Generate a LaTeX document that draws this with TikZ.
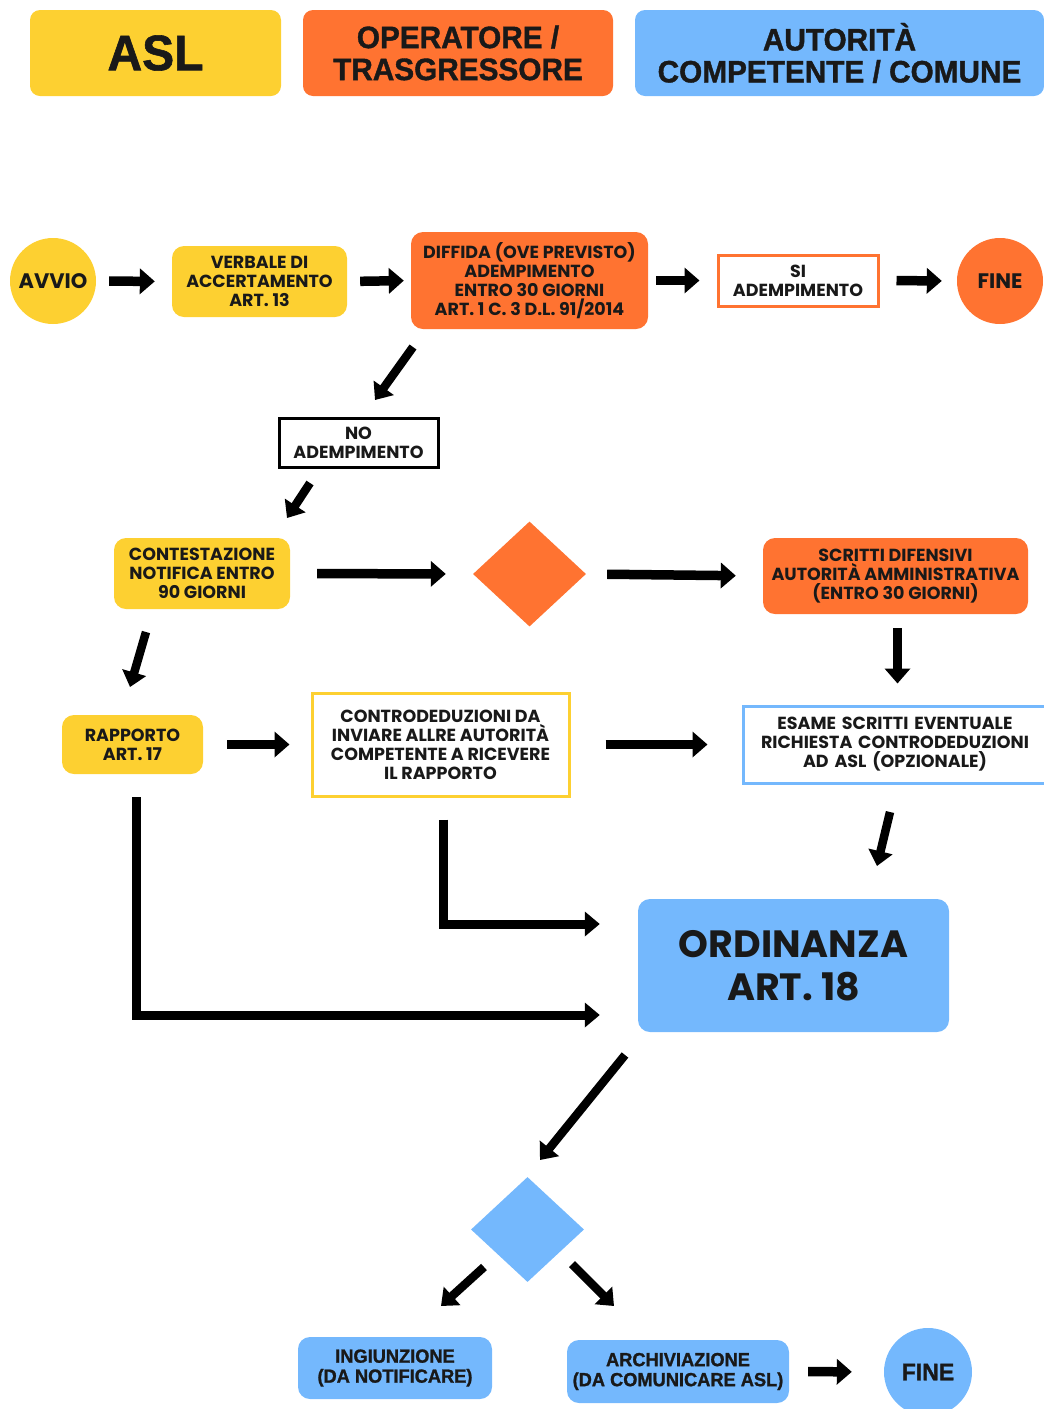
\documentclass[tikz,border=0pt]{standalone}
\usepackage{fontspec}
\setmainfont{Poppins}
\newfontfamily\hdr{Liberation Sans Bold}[FakeStretch=0.96,FakeBold=1.2]
\usetikzlibrary{arrows.meta,shapes.geometric,calc}
\definecolor{cyel}{HTML}{FDD031}
\definecolor{cora}{HTML}{FF7331}
\definecolor{cblu}{HTML}{74B8FD}
\tikzset{
  box/.style={rectangle,rounded corners=12pt,inner sep=0pt,align=center,font=\bfseries\fontsize{17.5}{19}\selectfont,text=black!90},
  ybox/.style={box,fill=cyel},
  obox/.style={box,fill=cora},
  bbox/.style={box,fill=cblu},
  wbox/.style={rectangle,inner sep=0pt,align=center,fill=white,line width=3pt,font=\bfseries\fontsize{17.5}{19}\selectfont,text=black!90},
  hbox/.style={rectangle,rounded corners=10pt,inner sep=0pt,align=center,minimum width=#1,minimum height=86pt,font=\hdr\fontsize{31}{32}\selectfont,text=black!90},
  circ/.style={circle,inner sep=0pt,minimum size=#1,font=\bfseries\fontsize{21}{24}\selectfont,text=black!90},
  dia/.style={diamond,inner sep=0pt,minimum width=113pt,minimum height=105pt,aspect=1.08},
  arr/.style={line width=9.5pt,-{Triangle[length=15pt,width=25pt]}},
  darr/.style={line width=8.5pt,-{Triangle[length=15pt,width=24pt]}},
  elb/.style={line width=9pt,-{Triangle[length=15pt,width=24pt]}}
}
\begin{document}
\begin{tikzpicture}[x=1pt,y=-1pt]
\useasboundingbox (0,0) rectangle (1044,1409);
% headers
\node[hbox=251pt,fill=cyel,font=\hdr\fontsize{50}{50}\selectfont] (hasl) at (155.5,53) {ASL};
\node[hbox=310pt,fill=cora] (hop) at (458,53) {OPERATORE /\\TRASGRESSORE};
\node[hbox=409pt,fill=cblu] (haut) at (839.5,53) {AUTORITÀ\\COMPETENTE / COMUNE};
% row 1
\node[circ=86pt,fill=cyel] (avvio) at (53,281) {AVVIO};
\node[ybox,minimum width=175pt,minimum height=71pt] (verbale) at (259.5,281.5) {VERBALE DI\\ACCERTAMENTO\\ART. 13};
\node[obox,minimum width=237pt,minimum height=97pt] (diffida) at (529.5,280.5) {DIFFIDA (OVE PREVISTO)\\ADEMPIMENTO\\ENTRO 30 GIORNI\\ART. 1 C. 3 D.L. 91/2014};
\node[wbox,draw=cora,minimum width=160pt,minimum height=51pt] (si) at (798,280.5) {SI\\ADEMPIMENTO};
\node[circ=86pt,fill=cora] (fine1) at (1000,281) {FINE};
\node[wbox,draw=black,minimum width=159pt,minimum height=49pt] (no) at (358.5,442.5) {NO\\ADEMPIMENTO};
% row 3
\node[ybox,minimum width=176pt,minimum height=71pt] (contest) at (202,573.5) {CONTESTAZIONE\\NOTIFICA ENTRO\\90 GIORNI};
\node[dia,fill=cora] (dia1) at (529.5,574) {};
\node[obox,minimum width=265pt,minimum height=76pt] (scritti) at (895.5,576) {SCRITTI DIFENSIVI\\AUTORITÀ AMMINISTRATIVA\\(ENTRO 30 GIORNI)};
% row 4
\node[ybox,minimum width=141pt,minimum height=59pt] (rapporto) at (132.5,744.5) {RAPPORTO\\ART. 17};
\node[wbox,draw=cyel,minimum width=257pt,minimum height=103pt] (contro) at (440.5,744.5) {CONTRODEDUZIONI DA\\INVIARE ALLRE AUTORITÀ\\COMPETENTE A RICEVERE\\IL RAPPORTO};
\node[wbox,draw=cblu,minimum width=308pt,minimum height=77pt,text width=300pt] (esame) at (897,744.5) {\hspace*{-4pt}ESAME SCRITTI EVENTUALE\\\hspace*{-4pt}RICHIESTA CONTRODEDUZIONI\\\hspace*{-4pt}AD ASL (OPZIONALE)};
% ordinanza
\node[bbox,minimum width=311pt,minimum height=133pt,font=\bfseries\fontsize{38}{43}\selectfont] (ordinanza) at (793.5,965.5) {ORDINANZA\\ART. 18};
\node[dia,fill=cblu] (dia2) at (527.5,1229.5) {};
\node[bbox,minimum width=194pt,minimum height=62pt,font=\hdr\fontsize{19}{20}\selectfont] (ingiun) at (395,1368) {INGIUNZIONE\\(DA NOTIFICARE)};
\node[bbox,minimum width=222pt,minimum height=63pt,font=\hdr\fontsize{19}{20}\selectfont] (archiv) at (678,1371.5) {ARCHIVIAZIONE\\(DA COMUNICARE ASL)};
\node[circ=88pt,fill=cblu,font=\hdr\fontsize{24}{24}\selectfont] (fine2) at (928,1372) {FINE};
% coordinates for diagonal arrows
\coordinate (d1s) at (413,347); \coordinate (d1e) at (375,400);
\coordinate (d2s) at (310,483); \coordinate (d2e) at (287,518);
\coordinate (d3s) at (146,632); \coordinate (d3e) at (130,687);
\coordinate (d4s) at (890,812); \coordinate (d4e) at (877,866);
\coordinate (d5s) at (625,1055); \coordinate (d5e) at (540,1160);
\coordinate (d6s) at (484,1267); \coordinate (d6e) at (441,1306);
\coordinate (d7s) at (572,1264); \coordinate (d7e) at (614,1306);
% horizontal arrows
\draw[arr,shorten <=13pt,shorten >=17pt] (avvio.east) -- (verbale.west);
\draw[arr,shorten <=13pt,shorten >=7pt] (verbale.east) -- (diffida.west);
\draw[arr,shorten <=8pt,shorten >=17pt] (diffida.east) -- (si.west);
\draw[arr,shorten <=17pt,shorten >=15pt] (si.east) -- (fine1.west);
\draw[arr,shorten <=27pt,shorten >=27pt] (contest.east) -- (dia1.west);
\draw[arr,shorten <=21pt,shorten >=27pt] (dia1.east) -- (scritti.west);
\draw[arr,shorten <=24pt,shorten >=21pt] (rapporto.east) -- (contro.west);
\draw[arr,shorten <=35pt,shorten >=34pt] (contro.east) -- (esame.west);
\draw[arr,shorten <=19pt,shorten >=32pt] (archiv.east) -- (fine2.west);
\draw[arr,shorten <=14pt,shorten >=21pt] ([xshift=2pt]scritti.south) -- ([xshift=2pt]scritti.south |- esame.north);
% diagonal arrows
\draw[darr] (d1s) -- (d1e);
\draw[darr] (d2s) -- (d2e);
\draw[darr] (d3s) -- (d3e);
\draw[darr] (d4s) -- (d4e);
\draw[darr] (d5s) -- (d5e);
\draw[darr] (d6s) -- (d6e);
\draw[darr] (d7s) -- (d7e);
% elbow connectors
\draw[elb,shorten <=22pt,shorten >=38pt] ([xshift=2.5pt]contro.south) |- ([yshift=41.5pt]ordinanza.west);
\draw[elb,shorten <=23pt,shorten >=38pt] ([xshift=3.5pt]rapporto.south) |- ([yshift=-49.5pt]ordinanza.west);
\end{tikzpicture}
\end{document}
